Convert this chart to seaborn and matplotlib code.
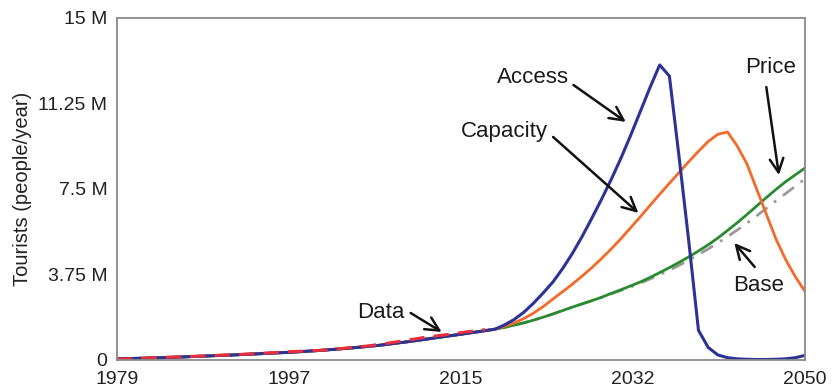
import matplotlib
matplotlib.use("Agg")
import matplotlib.pyplot as plt
import seaborn as sns
import pandas as pd

# ---- data -------------------------------------------------------------
# shared historical model run (all scenarios coincide until 2018)
hist_years = [1979, 1982, 1985, 1988, 1991, 1994, 1997, 2000, 2003, 2006,
              2009, 2012, 2015]
hist_vals = [0.05, 0.08, 0.12, 0.17, 0.22, 0.28, 0.34, 0.42, 0.52, 0.64,
             0.80, 0.98, 1.16]

proj_years = list(range(2018, 2051))
access = [1.35, 1.54, 1.78, 2.10, 2.50, 2.95, 3.43, 4.02, 4.68, 5.42,
          6.22, 7.05, 7.92, 8.85, 9.85, 10.90, 11.95, 12.94, 12.45, 8.90,
          5.20, 1.30, 0.55, 0.22, 0.10, 0.05, 0.03, 0.02, 0.02, 0.03,
          0.05, 0.10, 0.20]
capacity = [1.35, 1.48, 1.63, 1.82, 2.06, 2.35, 2.68, 3.00, 3.33, 3.68,
            4.05, 4.45, 4.87, 5.32, 5.80, 6.28, 6.78, 7.27, 7.75, 8.22,
            8.70, 9.15, 9.58, 9.90, 10.00, 9.38, 8.60, 7.50, 6.40, 5.30,
            4.40, 3.65, 3.00]
price = [1.35, 1.43, 1.53, 1.63, 1.75, 1.88, 2.02, 2.17, 2.32, 2.46,
         2.60, 2.75, 2.92, 3.08, 3.25, 3.42, 3.62, 3.83, 4.05, 4.28,
         4.52, 4.78, 5.05, 5.35, 5.68, 6.02, 6.38, 6.75, 7.12, 7.48,
         7.82, 8.12, 8.42]
base = [1.35, 1.43, 1.53, 1.63, 1.75, 1.88, 2.02, 2.17, 2.32, 2.46,
        2.60, 2.74, 2.90, 3.05, 3.20, 3.37, 3.55, 3.74, 3.94, 4.15,
        4.38, 4.62, 4.87, 5.13, 5.41, 5.70, 6.00, 6.32, 6.65, 6.98,
        7.30, 7.62, 7.95]

data_years = [1979, 1981, 1983, 1985, 1987, 1989, 1991, 1993, 1995, 1997,
              1999, 2001, 2003, 2005, 2007, 2009, 2011, 2013, 2015, 2017]
data_vals = [0.03, 0.06, 0.10, 0.13, 0.16, 0.20, 0.23, 0.27, 0.32, 0.37,
             0.40, 0.45, 0.54, 0.62, 0.74, 0.87, 1.01, 1.11, 1.23, 1.33]

x_ticks = [1979, 1996.75, 2014.5, 2032.25, 2050]
x_tick_labels = ["1979", "1997", "2015", "2032", "2050"]
y_ticks = [0, 3.75, 7.5, 11.25, 15]
y_tick_labels = ["0", "3.75 M", "7.5 M", "11.25 M", "15 M"]

labels = ["Access", "Capacity", "Price", "Base", "Data"]

# ---- styling ----------------------------------------------------------
sns.set_theme(style="white")
plt.rcParams["font.family"] = ["Liberation Sans", "DejaVu Sans"]

colors = {
    "Access": "#2d3296",
    "Capacity": "#f26b2a",
    "Price": "#2a8a2f",
    "Base": "#9a9a9a",
    "Data": "#e8303c",
}

fig = plt.figure(figsize=(8.36, 3.9), dpi=100)
ax = fig.add_axes([0.140, 0.077, 0.823, 0.877])


def scenario(vals):
    return pd.DataFrame({"year": hist_years + proj_years,
                         "tourists": hist_vals + vals})


lw = 2.0
sns.lineplot(data=scenario(base), x="year", y="tourists", ax=ax,
             color=colors["Base"], lw=lw, linestyle=(0, (5, 3, 1, 3)),
             estimator=None, sort=False)
sns.lineplot(data=scenario(price), x="year", y="tourists", ax=ax,
             color=colors["Price"], lw=lw, estimator=None, sort=False)
sns.lineplot(data=scenario(capacity), x="year", y="tourists", ax=ax,
             color=colors["Capacity"], lw=lw, estimator=None, sort=False)
sns.lineplot(data=scenario(access), x="year", y="tourists", ax=ax,
             color=colors["Access"], lw=2.2, estimator=None, sort=False)
sns.lineplot(x=data_years, y=data_vals, ax=ax, color=colors["Data"],
             lw=2.2, linestyle=(0, (5, 3)), estimator=None, sort=False)

ax.set_xlim(1979, 2050)
ax.set_ylim(0, 15)
ax.set_xticks(x_ticks)
ax.set_xticklabels(x_tick_labels)
ax.set_yticks(y_ticks)
ax.set_yticklabels(y_tick_labels)
ax.tick_params(axis="both", length=0, labelsize=14, colors="#222222")
ax.tick_params(axis="x", pad=8)
ax.tick_params(axis="y", pad=7)
ax.set_xlabel("")
ax.set_ylabel("Tourists (people/year)", fontsize=14.5, color="#222222")
ax.yaxis.set_label_coords(-0.124, 0.5)

for sp in ax.spines.values():
    sp.set_color("#8a8a8a")
    sp.set_linewidth(1.3)

# ---- callouts: label position, arrow tail, arrow head ------------------
callouts = {
    "Access":   ((2021.9, 12.37), (2026.1, 12.06), (2031.5, 10.44)),
    "Capacity": ((2019.0, 10.00), (2024.0, 9.78), (2032.8, 6.45)),
    "Price":    ((2046.4, 12.81), (2046.0, 11.97), (2047.3, 8.11)),
    "Base":     ((2045.25, 3.25), (2044.8, 4.08), (2042.7, 5.13)),
    "Data":     ((2006.2, 2.10), (2009.3, 2.06), (2012.5, 1.23)),
}
for name in labels:
    txt, tail, head = callouts[name]
    ax.text(*txt, name, fontsize=16, ha="center", va="center",
            color="#1a1a1a")
    ax.annotate("", xy=head, xytext=tail,
                arrowprops=dict(arrowstyle="->,head_length=0.7,head_width=0.35",
                                color="#111111", lw=1.8, mutation_scale=14,
                                shrinkA=0, shrinkB=0))

fig.savefig("out.png", dpi=100)
